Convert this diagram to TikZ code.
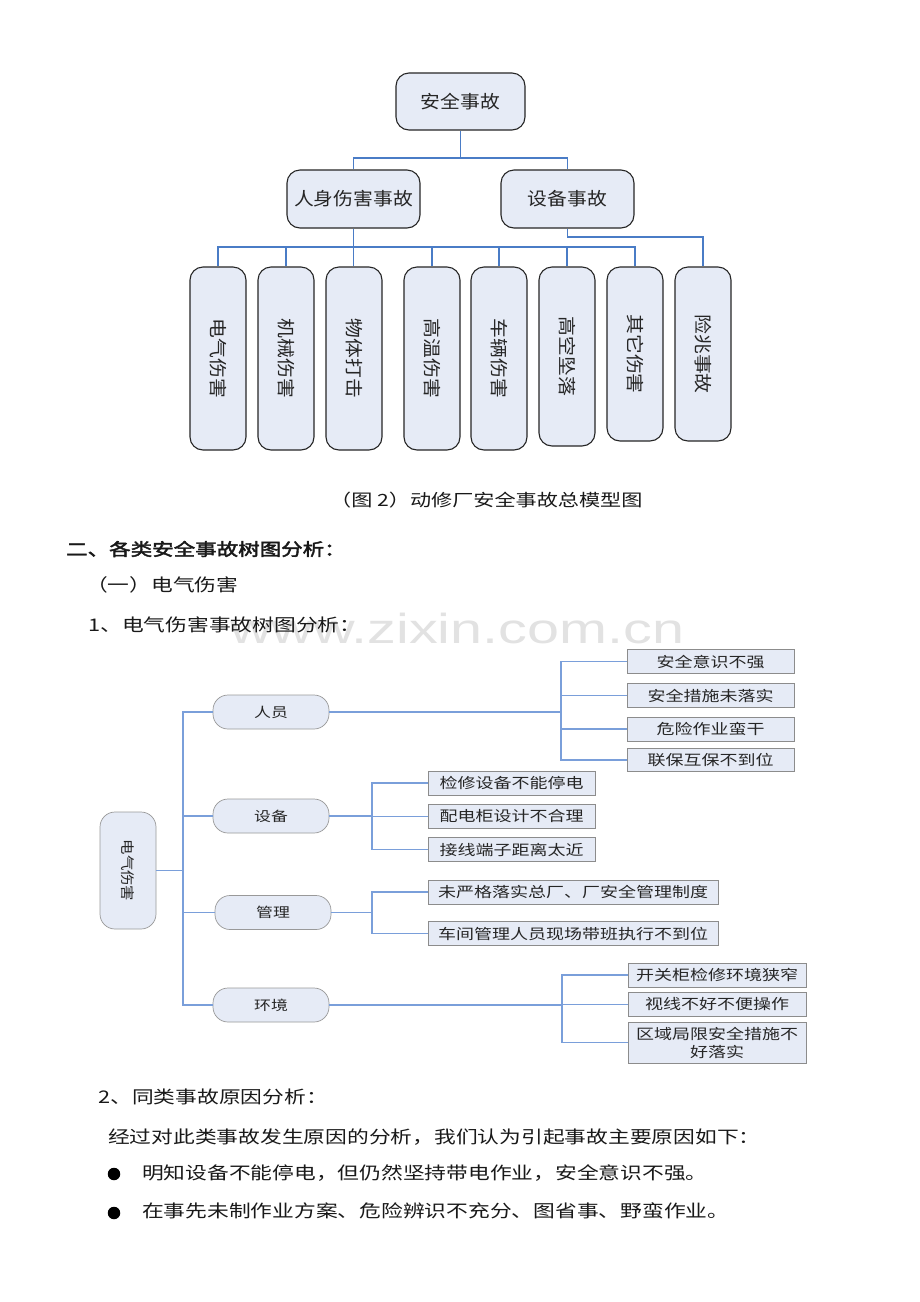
\documentclass[tikz,border=0pt]{standalone}
\usepackage{fontspec}
\newfontfamily\cjkT[FakeStretch=1.1]{Noto Sans CJK SC}
\newfontfamily\cjkB[FakeStretch=1.25]{Noto Sans CJK SC}
\newfontfamily\cjkH[FakeStretch=1.25,FakeBold=2.5]{Noto Sans CJK SC}
\newfontfamily\wmfont[FakeStretch=1.37]{Liberation Sans}
\definecolor{boxfill}{HTML}{E6EBF6}
\definecolor{lineblue}{HTML}{4A7CC6}
\definecolor{lineblue2}{HTML}{7A9FDA}
\definecolor{wmgray}{HTML}{E2E2E2}
\begin{document}
\begin{tikzpicture}[x=1pt,y=-1pt,
  topbox/.style={draw=black!85, line width=1.1pt, fill=boxfill, rounded corners=13pt, inner sep=0pt, text=black!85, font=\cjkT\fontsize{18}{20}\selectfont},
  colbox/.style={topbox, minimum width=56},
  pill/.style={draw=black!40, line width=0.7pt, fill=boxfill, rounded corners=15pt, minimum width=116, minimum height=34, inner sep=0pt, text=black!85, font=\cjkB\fontsize{13.5}{15}\selectfont},
  rbox/.style={draw=black!45, line width=0.8pt, fill=boxfill, inner sep=0pt, minimum height=24, text=black!85, font=\cjkB\fontsize{14.4}{18}\selectfont},
  conn/.style={draw=lineblue, line width=1.2pt},
  conn2/.style={draw=lineblue2, line width=1.1pt},
  txt/.style={anchor=west, inner sep=0pt, text=black!90, font=\cjkB\fontsize{17.4}{20}\selectfont},
  bullet/.style={circle, fill=black, inner sep=0pt, minimum size=12.5}
]
\useasboundingbox (0,0) rectangle (920,1302);
\fill[white] (0,0) rectangle (920,1302);

% watermark
\node[anchor=base west, inner sep=0pt, text=wmgray, font=\wmfont\fontsize{42}{44}\selectfont] (wm) at (230,643) {www.zixin.com.cn};

% ---------- top diagram ----------
\node[topbox, minimum width=129, minimum height=57] (root) at (460.5,101.5) {安全事故};
\node[topbox, minimum width=133, minimum height=58] (p) at (353.5,199) {人身伤害事故};
\node[topbox, minimum width=133, minimum height=58] (d) at (567.5,199) {设备事故};

\node[colbox, minimum height=183] (b1) at (218,358.5) {\rotatebox{-90}{电气伤害}};
\node[colbox, minimum height=183] (b2) at (286,358.5) {\rotatebox{-90}{机械伤害}};
\node[colbox, minimum height=183] (b3) at (354,358.5) {\rotatebox{-90}{物体打击}};
\node[colbox, minimum height=183] (b4) at (432,358.5) {\rotatebox{-90}{高温伤害}};
\node[colbox, minimum height=183] (b5) at (499,358.5) {\rotatebox{-90}{车辆伤害}};
\node[colbox, minimum height=179] (b6) at (567,356.5) {\rotatebox{-90}{高空坠落}};
\node[colbox, minimum height=174] (b7) at (635,354) {\rotatebox{-90}{其它伤害}};
\node[colbox, minimum height=174] (b8) at (703,354) {\rotatebox{-90}{险兆事故}};

\coordinate (j1) at (460.5,158);
\coordinate (j2) at (354,247);
\coordinate (j3) at (567.5,237);
\draw[conn] (root.south) -- (j1);
\draw[conn] (j1) -| (p.north);
\draw[conn] (j1) -| (d.north);
\draw[conn] (p.south) -- (p.south |- b3.north);
\draw[conn] (j2) -| (b1.north);
\draw[conn] (j2) -| (b2.north);
\draw[conn] (j2) -| (b4.north);
\draw[conn] (j2) -| (b5.north);
\draw[conn] (j2) -| (b6.north);
\draw[conn] (j2) -| (b7.north);
\draw[conn] (d.south) |- (j3) -| (b8.north);

% ---------- text ----------
\node[txt, font=\cjkB\fontsize{16.9}{20}\selectfont] (cap) at (330,500) {（图 2）动修厂安全事故总模型图};
\node[txt, font=\cjkH\fontsize{17.2}{20}\selectfont] (h2) at (66,549) {二、各类安全事故树图分析：};
\node[txt] (h3) at (86,585) {（一）电气伤害};
\node[txt] (h4) at (88,625) {1、电气伤害事故树图分析：};

% ---------- fault tree ----------
\node[draw=black!40, line width=0.7pt, fill=boxfill, rounded corners=15pt, minimum width=56, minimum height=117, inner sep=0pt, text=black!85, font=\cjkT\fontsize{14}{15}\selectfont] (eq) at (128,870.5) {\rotatebox{-90}{电气伤害}};

\node[pill] (ry) at (271,712) {人员};
\node[pill] (sb) at (271,816) {设备};
\node[pill] (gl) at (273,912.5) {管理};
\node[pill] (hj) at (271,1005) {环境};

\node[rbox, minimum width=167] (a1) at (710.5,661.5) {安全意识不强};
\node[rbox, minimum width=167] (a2) at (710.5,695.5) {安全措施未落实};
\node[rbox, minimum width=167] (a3) at (710.5,729) {危险作业蛮干};
\node[rbox, minimum width=167, minimum height=23] (a4) at (710.5,760) {联保互保不到位};

\node[rbox, minimum width=167] (s1) at (511.5,783) {检修设备不能停电};
\node[rbox, minimum width=167] (s2) at (511.5,816.5) {配电柜设计不合理};
\node[rbox, minimum width=167] (s3) at (511.5,849.5) {接线端子距离太近};

\node[rbox, minimum width=290] (g1) at (573,892) {未严格落实总厂、厂安全管理制度};
\node[rbox, minimum width=290] (g2) at (573,933.5) {车间管理人员现场带班执行不到位};

\node[rbox, minimum width=178] (e1) at (717,975) {开关柜检修环境狭窄};
\node[rbox, minimum width=178] (e2) at (717,1004.5) {视线不好不便操作};
\node[rbox, minimum width=178, minimum height=41, align=center] (e3) at (717,1042.5) {区域局限安全措施不\\好落实};

\coordinate (t0) at (183,870.5);
\draw[conn2] (eq.east) -- (t0);
\draw[conn2] (t0) |- (ry.west);
\draw[conn2] (t0) |- (sb.west);
\draw[conn2] (t0) |- (gl.west);
\draw[conn2] (t0) |- (hj.west);

\coordinate (k1) at (561,712);
\draw[conn2] (ry.east) -- (k1);
\draw[conn2] (k1) |- (a1.west);
\draw[conn2] (k1) |- (a2.west);
\draw[conn2] (k1) |- (a3.west);
\draw[conn2] (k1) |- (a4.west);

\coordinate (k2) at (372,816);
\draw[conn2] (sb.east) -- (k2);
\draw[conn2] (k2) |- (s1.west);
\draw[conn2] (k2) |- (s2.west);
\draw[conn2] (k2) |- (s3.west);

\coordinate (k3) at (372,912.5);
\draw[conn2] (gl.east) -- (k3);
\draw[conn2] (k3) |- (g1.west);
\draw[conn2] (k3) |- (g2.west);

\coordinate (k4) at (562,1005);
\draw[conn2] (hj.east) -- (k4);
\draw[conn2] (k4) |- (e1.west);
\draw[conn2] (k4) |- (e2.west);
\draw[conn2] (k4) |- (e3.west);

% ---------- bottom text ----------
\node[txt] (t1) at (98,1097) {2、同类事故原因分析：};
\node[txt] (t2) at (108,1137) {经过对此类事故发生原因的分析，我们认为引起事故主要原因如下：};
\node[bullet] (bl1) at (114,1174) {};
\node[txt] (t3) at (142,1173) {明知设备不能停电，但仍然坚持带电作业，安全意识不强。};
\node[bullet] (bl2) at (114,1213) {};
\node[txt] (t4) at (142,1211) {在事先未制作业方案、危险辨识不充分、图省事、野蛮作业。};
\end{tikzpicture}
\end{document}
